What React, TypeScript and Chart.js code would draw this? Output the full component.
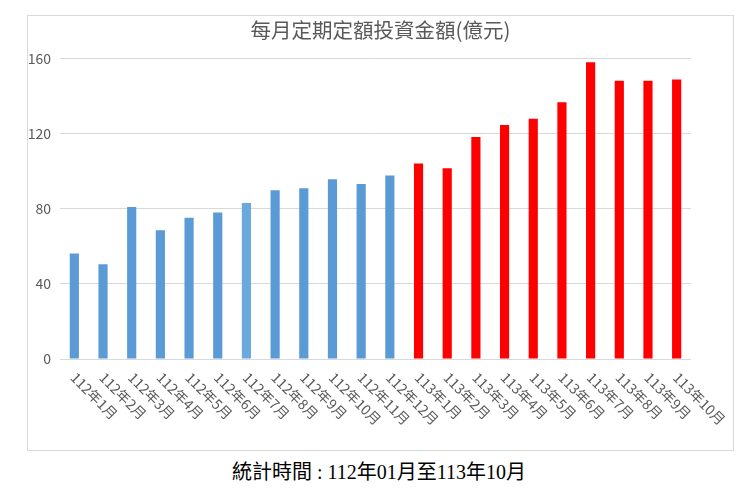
import { Chart, registerables, type Plugin } from "chart.js";
import { useEffect, useRef } from "react";

Chart.register(...registerables);

const months = [
  "112年1月", "112年2月", "112年3月", "112年4月", "112年5月", "112年6月",
  "112年7月", "112年8月", "112年9月", "112年10月", "112年11月", "112年12月",
  "113年1月", "113年2月", "113年3月", "113年4月", "113年5月", "113年6月",
  "113年7月", "113年8月", "113年9月", "113年10月",
];

// 億元
const amounts = [
  56.2, 50.5, 80.9, 68.6, 75.2, 78.0, 83.1, 89.9, 91.0, 95.7, 93.2, 97.7,
  104.1, 101.6, 118.2, 124.6, 128.0, 136.7, 158.0, 148.2, 148.2, 148.9,
];

const yTicks = [0, 40, 80, 120, 160];

const BLUE = "#5b9bd5";
const BLUE_LIGHT = "#6aa8de";
const RED = "#ff0000";
const TEXT = "#595959";
const FONT = '"Noto Sans CJK TC", "Noto Sans", sans-serif';

const barColors = months.map((m, i) =>
  m.startsWith("113") ? RED : i === 6 ? BLUE_LIGHT : BLUE
);

/** Excel-style slanted labels: start at the tick and run down-right. */
const slantedLabels: Plugin<"bar"> = {
  id: "slantedLabels",
  afterDraw(chart) {
    const scale = chart.scales.x;
    const { ctx } = chart;
    ctx.save();
    ctx.fillStyle = TEXT;
    ctx.font = `14px ${FONT}`;
    ctx.textAlign = "left";
    ctx.textBaseline = "middle";
    months.forEach((label, i) => {
      const x = scale.getPixelForValue(i) - 1;
      const y = scale.top + 16;
      ctx.save();
      ctx.translate(x, y);
      ctx.rotate(Math.PI / 4);
      ctx.fillText(label, 0, 0);
      ctx.restore();
    });
    ctx.restore();
  },
};

export default function App() {
  const canvasRef = useRef<HTMLCanvasElement>(null);

  useEffect(() => {
    const canvas = canvasRef.current;
    if (!canvas) return;
    const chart = new Chart(canvas, {
      type: "bar",
      data: {
        labels: months,
        datasets: [
          {
            data: amounts,
            backgroundColor: barColors,
            categoryPercentage: 1,
            barPercentage: 0.32,
          },
        ],
      },
      plugins: [slantedLabels],
      options: {
        animation: false,
        responsive: false,
        layout: { padding: 0 },
        plugins: {
          legend: { display: false },
          tooltip: { enabled: false },
          title: {
            display: true,
            text: "每月定期定額投資金額(億元)",
            color: TEXT,
            font: { family: FONT, size: 20.5, weight: "normal" },
            padding: { top: 2, bottom: 16 },
          },
        },
        scales: {
          x: {
            grid: { display: false, drawTicks: false },
            border: { display: false },
            ticks: { display: false },
            afterFit: (scale) => {
              scale.height = 91;
            },
          },
          y: {
            min: 0,
            max: 160,
            afterBuildTicks: (scale) => {
              scale.ticks = yTicks.map((value) => ({ value }));
            },
            grid: { color: "#d9d9d9", drawTicks: false, lineWidth: 1 },
            border: { display: false },
            ticks: {
              color: TEXT,
              padding: 9,
              font: { family: FONT, size: 14 },
            },
            afterFit: (scale) => {
              scale.width = 32;
            },
          },
          // empty right-hand strip so the title stays centred on the frame
          spacer: {
            type: "linear",
            position: "right",
            grid: { display: false, drawTicks: false },
            border: { display: false },
            ticks: { display: false },
            afterFit: (scale) => {
              scale.width = 42;
            },
          },
        },
      },
    });
    return () => chart.destroy();
  }, []);

  return (
    <div style={{ position: "relative", width: 742, height: 474 }}>
      <div
        style={{
          position: "absolute",
          left: 19,
          top: 7,
          width: 707,
          height: 436,
          border: "1px solid #d9d9d9",
          boxSizing: "border-box",
          background: "#fff",
        }}
      >
        <canvas ref={canvasRef} width={705} height={434} role="img" aria-label="每月定期定額投資金額" />
      </div>
      <div
        style={{
          position: "absolute",
          left: 0,
          top: 452,
          width: 742,
          textAlign: "center",
          fontFamily: '"Liberation Serif", "Noto Sans CJK TC", serif',
          fontSize: 20,
          lineHeight: "24px",
          color: "#000",
        }}
      >
        統計時間 : 112年01月至113年10月
      </div>
    </div>
  );
}
